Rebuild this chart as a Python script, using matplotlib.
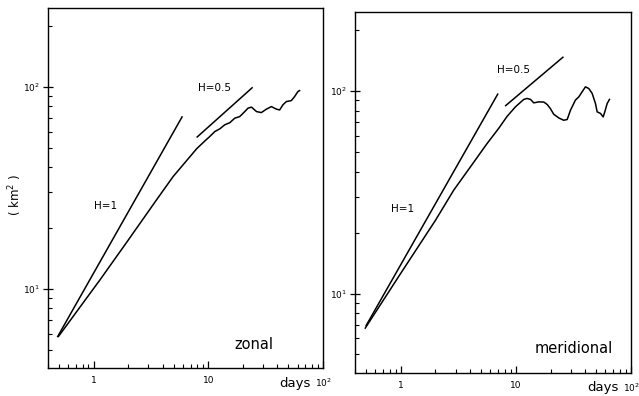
import matplotlib
matplotlib.use("Agg")
import matplotlib.pyplot as plt
from matplotlib.ticker import LogLocator, NullFormatter

# ---- data ----
zonal_t = [0.494, 1.14, 2.0, 3.54, 4.94, 7.94, 9.5, 10.2, 11.4, 12.6, 13.9, 15.4, 17.0, 18.8,
           20.8, 22.2, 23.8, 26.3, 29.0, 32.1, 35.5, 39.2, 41.9, 44.7, 47.9, 52.9,
           56.5, 60.4, 62.5]
zonal_d = [5.81, 11.1, 17.4, 27.6, 36.0, 49.5, 54.5, 56.5, 60.1, 62.0, 64.9, 66.5, 70.0, 71.3,
           75.5, 78.5, 79.4, 75.5, 74.6, 77.6, 79.9, 77.6, 76.9, 81.5, 84.6, 85.5,
           89.5, 94.8, 95.9]

merid_t = [0.491, 1.0, 2.0, 2.88, 4.02, 5.62, 7.09, 8.38, 9.9, 11.7, 12.5, 13.4,
           14.3, 15.8, 17.5, 18.7, 19.9, 21.3, 23.6, 26.0, 27.9, 29.8, 32.9, 35.2,
           37.6, 40.2, 43.0, 46.0, 49.1, 50.8, 54.3, 57.3, 59.2, 62.1, 65.0]
merid_d = [6.75, 12.6, 23.0, 32.4, 42.2, 55.1, 65.5, 75.0, 83.6, 91.0, 92.0, 91.0,
           87.5, 88.5, 88.3, 85.9, 82.1, 76.9, 73.7, 71.8, 72.4, 80.5, 90.3, 93.7,
           99.2, 105.0, 103.0, 97.4, 86.9, 79.0, 77.6, 74.6, 79.0, 86.9, 91.0]

# reference slopes (two end points each)
zonal_h1_t, zonal_h1_d = [0.486, 5.9], [5.8, 71.0]
zonal_h05_t, zonal_h05_d = [8.0, 24.1], [56.5, 99.0]
merid_h1_t, merid_h1_d = [0.5, 6.95], [6.95, 96.6]
merid_h05_t, merid_h05_d = [8.15, 25.6], [84.8, 147.0]

xticks = [1, 10, 100]
xticklabels = ["1", "10", "$10^2$"]
yticks = [10, 100]
yticklabels = ["$10^1$", "$10^2$"]

fig = plt.figure(figsize=(6.39, 3.96), dpi=100)
ax1 = fig.add_axes([48/639, 1-368/396, 275/639, 360/396])
ax2 = fig.add_axes([355/639, 1-373/396, 276/639, 361/396])

def style(ax):
    ax.set_xscale("log")
    ax.set_yscale("log")
    ax.set_xlim(0.4, 100)
    ax.set_ylim(4.05, 246)
    ax.set_xticks(xticks)
    ax.set_xticklabels(xticklabels, fontsize=6.5)
    ax.set_yticks(yticks)
    ax.set_yticklabels(yticklabels, fontsize=6.5)
    ax.xaxis.set_minor_locator(LogLocator(base=10, subs=range(2, 10)))
    ax.yaxis.set_minor_locator(LogLocator(base=10, subs=range(2, 10)))
    ax.xaxis.set_minor_formatter(NullFormatter())
    ax.yaxis.set_minor_formatter(NullFormatter())
    ax.tick_params(axis="x", which="major", direction="in", length=5, width=0.9, pad=6)
    ax.tick_params(axis="x", which="minor", direction="in", length=3, width=0.8)
    ax.tick_params(axis="y", which="major", direction="inout", length=7, width=0.9, pad=2)
    ax.tick_params(axis="y", which="minor", direction="in", length=3, width=0.8)
    for s in ax.spines.values():
        s.set_linewidth(1.0)

for ax in (ax1, ax2):
    style(ax)

lw = 1.1
ax1.plot(zonal_t, zonal_d, color="black", lw=lw)
ax1.plot(zonal_h1_t, zonal_h1_d, color="black", lw=lw)
ax1.plot(zonal_h05_t, zonal_h05_d, color="black", lw=lw)
ax1.text(1.26, 25.8, "H=1", fontsize=7.5, ha="center", va="center")
ax1.text(11.4, 99.0, "H=0.5", fontsize=7.5, ha="center", va="center")
ax1.text(24.9, 5.28, "zonal", fontsize=10.5, ha="center", va="center")

ax2.plot(merid_t, merid_d, color="black", lw=lw)
ax2.plot(merid_h1_t, merid_h1_d, color="black", lw=lw)
ax2.plot(merid_h05_t, merid_h05_d, color="black", lw=lw)
ax2.text(1.03, 26.2, "H=1", fontsize=7.5, ha="center", va="center")
ax2.text(9.5, 127.0, "H=0.5", fontsize=7.5, ha="center", va="center")
ax2.text(31.6, 5.37, "meridional", fontsize=10.5, ha="center", va="center")

fig.text(295/639, 1-383/396, "days", fontsize=9.5, ha="center", va="center")
fig.text(603/639, 1-388/396, "days", fontsize=9.5, ha="center", va="center")
fig.text(15/639, 1-195/396, "( km$^2$ )", fontsize=8.5, rotation=90,
         ha="center", va="center")

fig.savefig("out.png", dpi=100)
